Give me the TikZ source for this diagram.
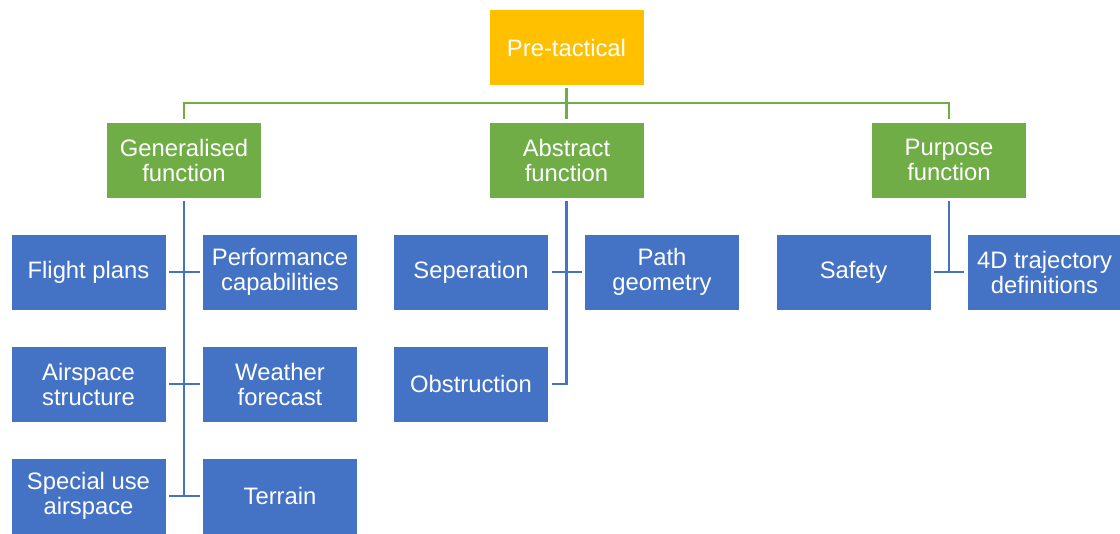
\documentclass[tikz,border=0pt]{standalone}
\usepackage{fontspec}
\setmainfont{Liberation Sans}
\usetikzlibrary{positioning}
\definecolor{ptorange}{HTML}{FFC000}
\definecolor{ptgreen}{HTML}{70AD47}
\definecolor{ptblue}{HTML}{4472C4}
\tikzset{
	basebox/.style={draw=white, line width=0.8pt, text=white, align=center,
		minimum width=155pt, minimum height=76pt, outer sep=3pt,
		font=\fontsize{23.8}{25}\selectfont},
	topbox/.style={basebox, fill=ptorange},
	funcbox/.style={basebox, fill=ptgreen},
	itembox/.style={basebox, fill=ptblue},
	greenline/.style={draw=ptgreen, line width=2.8pt},
	blueline/.style={draw=ptblue, line width=2.8pt}
}
\begin{document}
\begin{tikzpicture}[x=1pt,y=-1pt]
		\useasboundingbox (0,0) rectangle (1120,534);
		%draw top and function nodes
		\node[topbox] (pre) at (566.5,47.5) {Pre-tactical};
		\node[funcbox] (gen) at (184,160) {Generalised\\function};
		\node[funcbox] (abs) at (566.5,160) {Abstract\\function};
		\node[funcbox] (pur) at (949,160) {Purpose\\function};
		%draw generalised function items
		\node[itembox] (flight) at (88.5,272) {Flight plans};
		\node[itembox] (perf) at (280,272) {Performance\\capabilities};
		\node[itembox] (airsp) at (88.5,384) {Airspace\\structure};
		\node[itembox] (weath) at (280,384) {Weather\\forecast};
		\node[itembox] (special) at (88.5,496) {Special use\\airspace};
		\node[itembox] (terr) at (280,496) {Terrain};
		%draw abstract function items
		\node[itembox] (sep) at (471,272) {Seperation};
		\node[itembox] (path) at (662,272) {Path\\geometry};
		\node[itembox] (obst) at (471,384) {Obstruction};
		%draw purpose function items
		\node[itembox] (safe) at (853.5,272) {Safety};
		\node[itembox] (traj) at (1044.5,272) {4D trajectory\\definitions};
		
		%draw green bus
		\coordinate (bus) at (0,103);
		\draw[greenline] (pre.south) -- (abs.north);
		\draw[greenline] (gen.north) -- (gen.north |- bus) -- (pur.north |- bus) -- (pur.north);
		%draw blue connectors
		\draw[blueline] (gen.south) -- (gen.south |- special.east);
		\foreach \l/\r in {flight/perf, airsp/weath, special/terr, sep/path, safe/traj}{
			\draw[blueline] (\l.east) -- (\r.west);
		}
		\draw[blueline] (abs.south) |- (obst.east);
		\draw[blueline] (pur.south) -- (pur.south |- safe.east);
		
\end{tikzpicture}
\end{document}
